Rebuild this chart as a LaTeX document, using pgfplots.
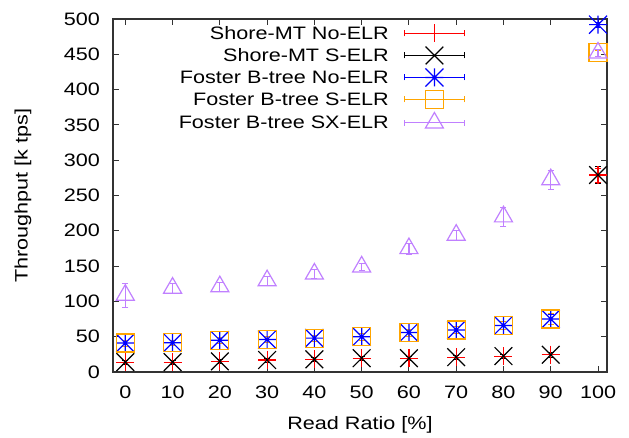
\documentclass[border=0pt]{standalone}
\usepackage{fontspec}
\setmainfont{Liberation Sans}[FakeStretch=1.2]
\usepackage{pgfplots}
\pgfplotsset{compat=1.18}
\usepackage{pgfplotstable}

\definecolor{gporange}{RGB}{255,165,0}
\definecolor{gppurple}{RGB}{192,128,255}

\pgfdeclareplotmark{gpstar}{%
  \pgfpathmoveto{\pgfqpoint{-\pgfplotmarksize}{0pt}}%
  \pgfpathlineto{\pgfqpoint{\pgfplotmarksize}{0pt}}%
  \pgfpathmoveto{\pgfqpoint{0pt}{-\pgfplotmarksize}}%
  \pgfpathlineto{\pgfqpoint{0pt}{\pgfplotmarksize}}%
  \pgfpathmoveto{\pgfqpoint{-\pgfplotmarksize}{-\pgfplotmarksize}}%
  \pgfpathlineto{\pgfqpoint{\pgfplotmarksize}{\pgfplotmarksize}}%
  \pgfpathmoveto{\pgfqpoint{-\pgfplotmarksize}{\pgfplotmarksize}}%
  \pgfpathlineto{\pgfqpoint{\pgfplotmarksize}{-\pgfplotmarksize}}%
  \pgfusepathqstroke}

\pgfplotstableread{
x y e
0 14 3
10 14 3
20 15 3
30 17 3
40 18 3
50 19.5 3
60 19.5 3
70 21 3
80 22.5 3
90 24.5 3
100 279 10
}\shoreNo
\pgfplotstableread{
x y e
0 14 3
10 14 3
20 15 3
30 17 3
40 18 3
50 19.5 3
60 19.5 3
70 21 3
80 22.5 3
90 24.5 3
100 279 12
}\shoreS
\pgfplotstableread{
x y e
0 41 4
10 41.5 4
20 45 4
30 46 4
40 48 4
50 50 5
60 56 5
70 59.5 5
80 66 6
90 75 7
100 492 4
}\fosterNo
\pgfplotstableread{
x y e
0 41 4
10 41.5 4
20 45 4
30 46 4
40 48 4
50 50 5
60 56 5
70 59.5 5
80 66 6
90 75 8
100 452 4
}\fosterS
\pgfplotstableread{
x y e
0 109 17
10 119 7
20 121 6
30 129.5 6
40 139 6
50 149 5
60 175 8
70 194 7
80 220 13
90 272.5 14
100 452 5
}\fosterSX

\begin{document}
\fontsize{18}{21}\selectfont
\begin{tikzpicture}
\begin{axis}[
  name=ax,
  scale only axis,
  width=494pt, height=353pt,
  xmin=-2.6, xmax=101.9,
  ymin=0, ymax=500,
  xtick={0,10,...,100},
  ytick={0,50,...,500},
  tick align=inside,
  major tick length=6pt,
  clip=false,
  axis line style={black!80, line width=1.1pt},
  every tick/.style={black!80, line width=0.9pt},
  /pgf/number format/assume math mode=true,
  yticklabel style={anchor=east, inner sep=0pt, xshift=-13pt},
  xticklabel style={anchor=north, inner sep=0pt, yshift=-14pt},
  xlabel={Read Ratio [\%]},
  ylabel={Throughput [k tps]},
  every axis x label/.style={at={(rel axis cs:0.5,0)}, anchor=center, yshift=-53pt},
  every axis y label/.style={at={(rel axis cs:0,0.5)}, anchor=center, xshift=-90pt, rotate=90},
  legend plot pos=right,
  legend cell align=right,
  legend style={draw=none, fill=none, at={(rel axis cs:0.713,0.985)}, anchor=north east,
    inner sep=0pt, row sep=4pt, column sep=15pt,
    nodes={inner sep=0pt, text height=15pt, text depth=3pt}},
  legend image code/.code={
    \draw[#1, mark=none] (0pt,0pt) -- (60pt,0pt);
    \draw[#1, mark=none] (0pt,-3pt) -- (0pt,3pt);
    \draw[#1, mark=none] (60pt,-3pt) -- (60pt,3pt);
    \draw[#1] plot coordinates {(30pt,0pt)};
  },
  error bars/error mark options={rotate=90, mark size=3pt},
]
\addplot+[only marks, red, mark=+, mark size=9pt, line width=1.2pt,
  error bars/.cd, y dir=both, y explicit, error bar style={red, line width=1.2pt}]
  table[x=x, y=y, y error=e] {\shoreNo};
\addlegendentry{Shore-MT No-ELR}
\addplot+[only marks, black, mark=x, mark size=12.5pt, line width=1.2pt,
  error bars/.cd, y dir=both, y explicit, error bar style={black, line width=1.2pt}]
  table[x=x, y=y, y error=e] {\shoreS};
\addlegendentry{Shore-MT S-ELR}
\addplot+[only marks, blue, mark=gpstar, mark size=9pt, line width=1.2pt,
  error bars/.cd, y dir=both, y explicit, error bar style={blue, line width=1.2pt}]
  table[x=x, y=y, y error=e] {\fosterNo};
\addlegendentry{Foster B-tree No-ELR}
\addplot+[only marks, gporange, mark=square, mark size=9pt, line width=1.2pt, mark options={fill=none},
  error bars/.cd, y dir=both, y explicit, error bar style={gporange, line width=1.2pt}]
  table[x=x, y=y, y error=e] {\fosterS};
\addlegendentry{Foster B-tree S-ELR}
\addplot+[only marks, gppurple, mark=triangle, mark size=10.4pt, line width=1.2pt, mark options={fill=none},
  error bars/.cd, y dir=both, y explicit, error bar style={gppurple, line width=1.2pt}]
  table[x=x, y=y, y error=e] {\fosterSX};
\addlegendentry{Foster B-tree SX-ELR}
\end{axis}
\pgfresetboundingbox
\path (ax.south west) ++(-113pt,-66pt) rectangle ++(629pt,438pt);
\end{tikzpicture}
\end{document}
